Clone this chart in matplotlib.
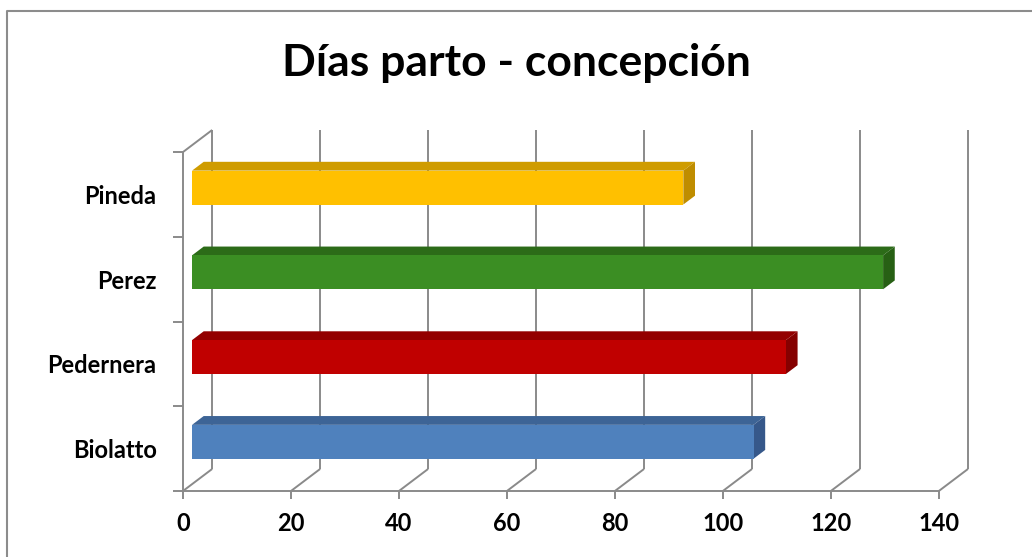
import matplotlib

matplotlib.use("Agg")
import matplotlib.pyplot as plt
from matplotlib.patches import Polygon

# datos
productores = ["Biolatto", "Pedernera", "Perez", "Pineda"]
dias = [104, 110, 128, 91]
x_ticks = [0, 20, 40, 60, 80, 100, 120, 140]

front_col = ["#4F81BD", "#C00000", "#3B8E23", "#FFC000"]
top_col = ["#3D6496", "#930000", "#2C6B18", "#CF9C00"]
side_col = ["#36588A", "#850000", "#276014", "#BF8D00"]

XMAX = 140
DX = 5.4      # desplazamiento de profundidad en unidades de x
DY = 0.26     # desplazamiento de profundidad en unidades de categoría
Z0, Z1 = 0.31, 0.71
BAR_W = 0.4
GRID = "#8A8A8A"


def p(x, y, z):
    return (x + z * DX, y + z * DY)


fig = plt.figure(figsize=(10.32, 5.57), dpi=100)
ax = fig.add_axes([183 / 1032, 1 - 491 / 557, 785 / 1032, 361 / 557])
n = len(productores)
ax.set_xlim(0, XMAX + DX)
ax.set_ylim(0, n + DY)

# borde del área del gráfico
fig.add_artist(plt.Line2D([7 / 1032, 7 / 1032, 1], [0, 1 - 11 / 557, 1 - 11 / 557],
                          color="#8C8C8C", lw=1.5))

lkw = dict(color=GRID, lw=1.4, clip_on=False, zorder=1, solid_capstyle="butt")

# pared del fondo y piso
for v in x_ticks:
    a, b = p(v, 0, 1), p(v, n, 1)
    ax.plot([a[0], b[0]], [a[1], b[1]], **lkw)
    c = p(v, 0, 0)
    ax.plot([c[0], a[0]], [c[1], a[1]], **lkw)
# pared izquierda
a, b = p(0, n, 0), p(0, n, 1)
ax.plot([0, 0], [0, n], **lkw)
ax.plot([a[0], b[0]], [a[1], b[1]], **lkw)
ax.plot([0, XMAX], [0, 0], **lkw)

# barras 3D
for i, v in enumerate(dias):
    y0 = i + 0.5 - BAR_W / 2
    y1 = i + 0.5 + BAR_W / 2
    front = [p(0, y0, Z0), p(v, y0, Z0), p(v, y1, Z0), p(0, y1, Z0)]
    top = [p(0, y1, Z0), p(v, y1, Z0), p(v, y1, Z1), p(0, y1, Z1)]
    side = [p(v, y0, Z0), p(v, y0, Z1), p(v, y1, Z1), p(v, y1, Z0)]
    ax.add_patch(Polygon(top, closed=True, fc=top_col[i], ec="none", zorder=3))
    ax.add_patch(Polygon(side, closed=True, fc=side_col[i], ec="none", zorder=3))
    ax.add_patch(Polygon(front, closed=True, fc=front_col[i], ec="none", zorder=4))

for s in ax.spines.values():
    s.set_visible(False)
ax.set_facecolor("none")

ax.set_xticks(x_ticks)
ax.set_xticklabels([str(t) for t in x_ticks], fontsize=17, fontweight="bold",
                   family="Lato")
ax.tick_params(axis="x", length=6, width=1.4, color=GRID, pad=9)

ax.set_yticks(range(n + 1))
ax.set_yticklabels([])
ax.tick_params(axis="y", which="major", length=7, width=1.4, color=GRID)
ax.set_yticks([i + 0.5 for i in range(n)], minor=True)
ax.set_yticklabels(productores, minor=True, fontsize=17, fontweight="bold",
                   family="Lato")
ax.tick_params(axis="y", which="minor", length=0, pad=19)

fig.text(0.5, 1 - 63 / 557, "Días parto - concepción", ha="center", va="center",
         fontsize=32, fontweight="bold", family="Lato")

fig.savefig("out.png", dpi=100, facecolor="white")
